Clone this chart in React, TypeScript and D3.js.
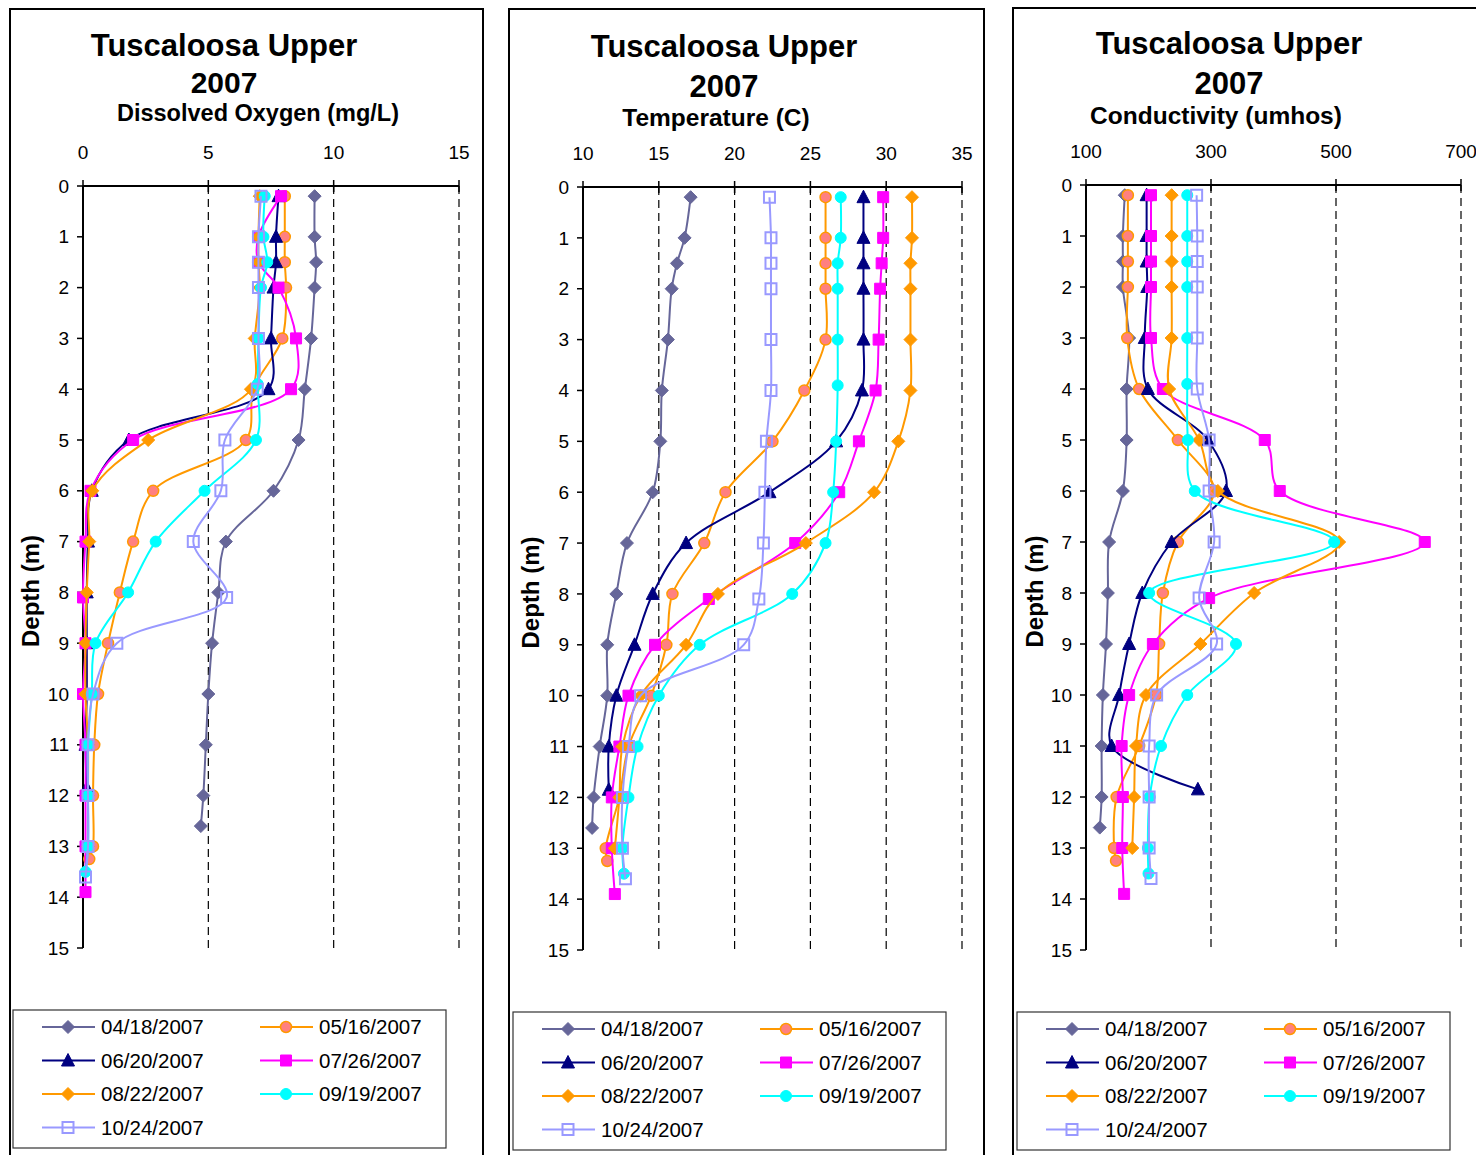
import React from "react";
import * as d3 from "d3";

// ---- data ----
const dates = ["04/18/2007", "05/16/2007", "06/20/2007", "07/26/2007", "08/22/2007", "09/19/2007", "10/24/2007"];

const depth0418 = [0.2, 1, 1.5, 2, 3, 4, 5, 6, 7, 8, 9, 10, 11, 12, 12.6];
const do0418 = [9.24, 9.24, 9.3, 9.24, 9.1, 8.85, 8.6, 7.6, 5.7, 5.4, 5.15, 5.0, 4.9, 4.8, 4.7];
const temp0418 = [17.1, 16.7, 16.2, 15.85, 15.6, 15.2, 15.1, 14.6, 12.9, 12.2, 11.6, 11.6, 11.1, 10.7, 10.6];
const cond0418 = [162, 159, 159, 159, 169, 165, 165, 159, 137, 135, 132, 127, 125, 125, 122];

const depth0516 = [0.2, 1, 1.5, 2, 3, 4, 5, 6, 7, 8, 9, 10, 11, 12, 13, 13.25];
const do0516 = [8.05, 8.05, 8.05, 8.1, 7.95, 6.8, 6.5, 2.8, 2.0, 1.47, 1.0, 0.6, 0.45, 0.4, 0.4, 0.25];
const temp0516 = [26.0, 26.0, 26.0, 26.0, 26.0, 24.6, 22.5, 19.4, 18.0, 15.9, 15.5, 14.5, 13.0, 12.4, 11.5, 11.6];
const cond0516 = [167, 167, 167, 167, 166, 185, 247, 305, 247, 223, 217, 212, 185, 149, 145, 148];

const depth0620 = [0.2, 1, 1.5, 2, 3, 4, 5, 6, 7, 8, 9, 10, 11, 11.85];
const do0620 = [7.8, 7.7, 7.7, 7.6, 7.5, 7.4, 1.83, 0.35, 0.2, 0.15, 0.15, 0.15, 0.1, 0.15];
const temp0620 = [28.5, 28.5, 28.5, 28.5, 28.5, 28.4, 26.7, 22.3, 16.8, 14.6, 13.4, 12.2, 11.7, 11.7];
const cond0620 = [197, 197, 197, 198, 194, 199, 295, 324, 237, 190, 169, 153, 141, 279];

const depth0726 = [0.2, 1, 1.5, 2, 3, 4, 5, 6, 7, 8.1, 9, 10, 11, 12, 13, 13.9];
const do0726 = [7.9, 7.0, 7.0, 7.8, 8.5, 8.3, 2.0, 0.3, 0.1, 0.0, 0.1, 0.0, 0.1, 0.1, 0.1, 0.1];
const temp0726 = [29.8, 29.8, 29.7, 29.6, 29.5, 29.3, 28.2, 26.9, 24.0, 18.3, 14.75, 13.0, 12.4, 11.9, 11.9, 12.1];
const cond0726 = [204, 204, 204, 204, 204, 223, 386, 410, 642, 297, 207, 169, 157, 159, 158, 161];

const depth0822 = [0.2, 1, 1.5, 2, 3, 4, 5, 6, 7, 8, 9, 10, 11, 12, 13];
const do0822 = [7.05, 7.0, 7.0, 7.05, 6.85, 6.7, 2.6, 0.37, 0.25, 0.15, 0.1, 0.1, 0.2, 0.2, 0.2];
const temp0822 = [31.7, 31.7, 31.6, 31.6, 31.6, 31.6, 30.8, 29.2, 24.7, 18.9, 16.8, 13.8, 12.6, 12.4, 12.1];
const cond0822 = [237, 237, 237, 237, 237, 233, 281, 311, 505, 369, 283, 196, 180, 177, 174];

const depth0919 = [0.2, 1, 1.5, 2, 3, 3.9, 5, 6, 7, 8, 9, 10, 11, 12, 13, 13.5];
const do0919 = [7.25, 7.2, 7.35, 7.1, 7.0, 6.97, 6.9, 4.85, 2.9, 1.8, 0.5, 0.35, 0.2, 0.2, 0.2, 0.1];
const temp0919 = [27.0, 27.0, 26.8, 26.8, 26.8, 26.8, 26.7, 26.5, 26.0, 23.8, 17.7, 15.0, 13.6, 13.0, 12.6, 12.7];
const cond0919 = [262, 262, 262, 262, 262, 262, 263, 274, 497, 201, 340, 262, 220, 202, 199, 200];

const depth1024 = [0.2, 1, 1.5, 2, 3, 4, 5, 6, 7, 8.1, 9, 10, 11, 12, 13, 13.6];
const do1024 = [7.1, 7.0, 7.0, 7.0, 7.0, 6.95, 5.66, 5.5, 4.4, 5.73, 1.35, 0.4, 0.2, 0.2, 0.2, 0.1];
const temp1024 = [22.3, 22.4, 22.4, 22.4, 22.4, 22.4, 22.1, 22.0, 21.9, 21.6, 20.6, 13.8, 13.0, 12.6, 12.6, 12.8];
const cond1024 = [277, 278, 278, 278, 278, 278, 297, 297, 305, 281, 309, 213, 201, 201, 201, 204];

const depthTicks = d3.range(0, 16);
const doTicks = [0, 5, 10, 15];
const tempTicks = [10, 15, 20, 25, 30, 35];
const condTicks = [100, 300, 500, 700];

// ---- styling ----
const lineColors = ["#666699", "#FF9900", "#000080", "#FF00FF", "#FF9900", "#00FFFF", "#9999FF"];
const markerFill = ["#666699", "#FF8080", "#000080", "#FF00FF", "#FF9900", "#00FFFF", "none"];
const markerStroke = ["#666699", "#FF9900", "#000080", "#FF00FF", "#FF9900", "#00FFFF", "#9999FF"];
const markerShape = ["diamond", "circle", "triangle", "square", "diamond", "circle", "square"];

const depths = [depth0418, depth0516, depth0620, depth0726, depth0822, depth0919, depth1024];
const doVals = [do0418, do0516, do0620, do0726, do0822, do0919, do1024];
const tempVals = [temp0418, temp0516, temp0620, temp0726, temp0822, temp0919, temp1024];
const condVals = [cond0418, cond0516, cond0620, cond0726, cond0822, cond0919, cond1024];

const FONT = "'Liberation Sans', Arial, sans-serif";

function markerPath(shape: string, x: number, y: number): string {
  if (shape === "diamond") {
    const s = 6.5;
    return `M${x},${y - s}L${x + s},${y}L${x},${y + s}L${x - s},${y}Z`;
  }
  if (shape === "triangle") {
    return `M${x},${y - 7}L${x + 6.5},${y + 5.5}L${x - 6.5},${y + 5.5}Z`;
  }
  if (shape === "square") {
    const s = 5.5;
    return `M${x - s},${y - s}h${2 * s}v${2 * s}h${-2 * s}Z`;
  }
  const r = 5.5;
  return `M${x - r},${y}a${r},${r} 0 1,0 ${2 * r},0a${r},${r} 0 1,0 ${-2 * r},0Z`;
}

function Marker({ i, x, y }: { i: number; x: number; y: number }) {
  const sw = i === 6 ? 2 : i === 1 ? 1.5 : 1;
  return (
    <path
      d={markerPath(markerShape[i], x, y)}
      fill={markerFill[i]}
      stroke={markerStroke[i]}
      strokeWidth={sw}
    />
  );
}

type PanelProps = {
  left: number;
  right: number;
  top: number;
  title: string;
  titleX: number;
  titleY: number;
  yearY: number;
  yearSize: number;
  sub: string;
  subX: number;
  subY: number;
  subSize: number;
  xDomain: [number, number];
  xRange: [number, number];
  yRange: [number, number];
  xTicks: number[];
  values: number[][];
  legendX: number;
  legendY: number;
  depthX: number;
};

function Panel(p: PanelProps) {
  const x = d3.scaleLinear().domain(p.xDomain).range(p.xRange);
  const y = d3.scaleLinear().domain([0, 15]).range(p.yRange);
  const line = d3
    .line<[number, number]>()
    .x((d) => x(d[0]))
    .y((d) => y(d[1]))
    .curve(d3.curveCatmullRom.alpha(0.5));
  const x0 = x(p.xDomain[0]);
  const yTop = y(0);
  const yBot = y(15);

  const legendRows = [0, 0, 1, 1, 2, 2, 3];
  const legendCols = [0, 1, 0, 1, 0, 1, 0];
  const rowGap = 33.5;

  return (
    <g>
      {/* panel frame */}
      <path
        d={`M${p.left},1160V${p.top}H${p.right}V1160`}
        fill="none"
        stroke="#000"
        strokeWidth={2}
      />
      {/* titles */}
      <text x={p.titleX} y={p.titleY} textAnchor="middle" fontFamily={FONT} fontWeight="bold" fontSize={31}>
        {p.title}
      </text>
      <text x={p.titleX} y={p.yearY} textAnchor="middle" fontFamily={FONT} fontWeight="bold" fontSize={p.yearSize}>
        2007
      </text>
      <text x={p.subX} y={p.subY} textAnchor="middle" fontFamily={FONT} fontWeight="bold" fontSize={p.subSize}>
        {p.sub}
      </text>
      {/* grid */}
      {p.xTicks.slice(1).map((t) => (
        <line
          key={"g" + t}
          x1={x(t)}
          x2={x(t)}
          y1={yTop}
          y2={yBot}
          stroke="#000"
          strokeWidth={1.2}
          strokeDasharray="8,5"
        />
      ))}
      {/* x axis */}
      <line x1={x0} x2={x(p.xDomain[1])} y1={yTop} y2={yTop} stroke="#000" strokeWidth={2} />
      {p.xTicks.map((t) => (
        <g key={"xt" + t}>
          <line x1={x(t)} x2={x(t)} y1={yTop - 6} y2={yTop + 6} stroke="#000" strokeWidth={1.5} />
          <text x={x(t)} y={yTop - 27} textAnchor="middle" fontFamily={FONT} fontSize={19}>
            {t}
          </text>
        </g>
      ))}
      {/* y axis */}
      <line x1={x0} x2={x0} y1={yTop} y2={yBot} stroke="#000" strokeWidth={2} />
      {depthTicks.map((t) => (
        <g key={"yt" + t}>
          <line x1={x0 - 6} x2={x0} y1={y(t)} y2={y(t)} stroke="#000" strokeWidth={1.5} />
          <text
            x={x0 - 14}
            y={y(t)}
            dy="0.35em"
            textAnchor="end"
            fontFamily={FONT}
            fontSize={19}
          >
            {t}
          </text>
        </g>
      ))}
      <text
        transform={`translate(${p.depthX},${(yTop + yBot) / 2 + 24}) rotate(-90)`}
        textAnchor="middle"
        dy="0.35em"
        fontFamily={FONT}
        fontWeight="bold"
        fontSize={24}
      >
        Depth (m)
      </text>
      {/* series */}
      {dates.map((dt, i) => {
        const pts: [number, number][] = p.values[i].map((v, k) => [v, depths[i][k]]);
        return (
          <g key={dt}>
            <path d={line(pts) || ""} fill="none" stroke={lineColors[i]} strokeWidth={2} />
            {pts.map((d, k) => (
              <Marker key={k} i={i} x={x(d[0])} y={y(d[1])} />
            ))}
          </g>
        );
      })}
      {/* legend */}
      <rect
        x={p.legendX}
        y={p.legendY}
        width={433}
        height={138}
        fill="#fff"
        stroke="#333"
        strokeWidth={1.2}
      />
      {dates.map((dt, i) => {
        const lx = p.legendX + 29 + legendCols[i] * 218;
        const ly = p.legendY + 17 + legendRows[i] * rowGap;
        return (
          <g key={"lg" + dt}>
            <line x1={lx} x2={lx + 53} y1={ly} y2={ly} stroke={lineColors[i]} strokeWidth={2} />
            <Marker i={i} x={lx + 26} y={ly} />
            <text x={lx + 59} y={ly} dy="0.36em" fontFamily={FONT} fontSize={20.5}>
              {dt}
            </text>
          </g>
        );
      })}
    </g>
  );
}

export default function App() {
  return (
    <svg
      width={1476}
      height={1155}
      style={{ position: "absolute", left: 0, top: 0, background: "#fff" }}
    >
      <rect width={1476} height={1155} fill="#fff" />
      <Panel
        left={10}
        right={483}
        top={9}
        title="Tuscaloosa Upper"
        titleX={224}
        titleY={56}
        yearY={93}
        yearSize={30}
        sub="Dissolved Oxygen (mg/L)"
        subX={258}
        subY={121}
        subSize={23.5}
        xDomain={[0, 15]}
        xRange={[83, 459]}
        yRange={[186, 948]}
        xTicks={doTicks}
        values={doVals}
        legendX={13}
        legendY={1010}
        depthX={31}
      />
      <Panel
        left={509}
        right={984}
        top={9}
        title="Tuscaloosa Upper"
        titleX={724}
        titleY={57}
        yearY={97}
        yearSize={31}
        sub="Temperature (C)"
        subX={716}
        subY={126}
        subSize={24.5}
        xDomain={[10, 35]}
        xRange={[583, 962]}
        yRange={[187, 950]}
        xTicks={tempTicks}
        values={tempVals}
        legendX={513}
        legendY={1012}
        depthX={531}
      />
      <Panel
        left={1013}
        right={1500}
        top={8}
        title="Tuscaloosa Upper"
        titleX={1229}
        titleY={54}
        yearY={94}
        yearSize={31}
        sub="Conductivity (umhos)"
        subX={1216}
        subY={124}
        subSize={24.5}
        xDomain={[100, 700]}
        xRange={[1086, 1461]}
        yRange={[185, 950]}
        xTicks={condTicks}
        values={condVals}
        legendX={1017}
        legendY={1012}
        depthX={1035}
      />
    </svg>
  );
}
